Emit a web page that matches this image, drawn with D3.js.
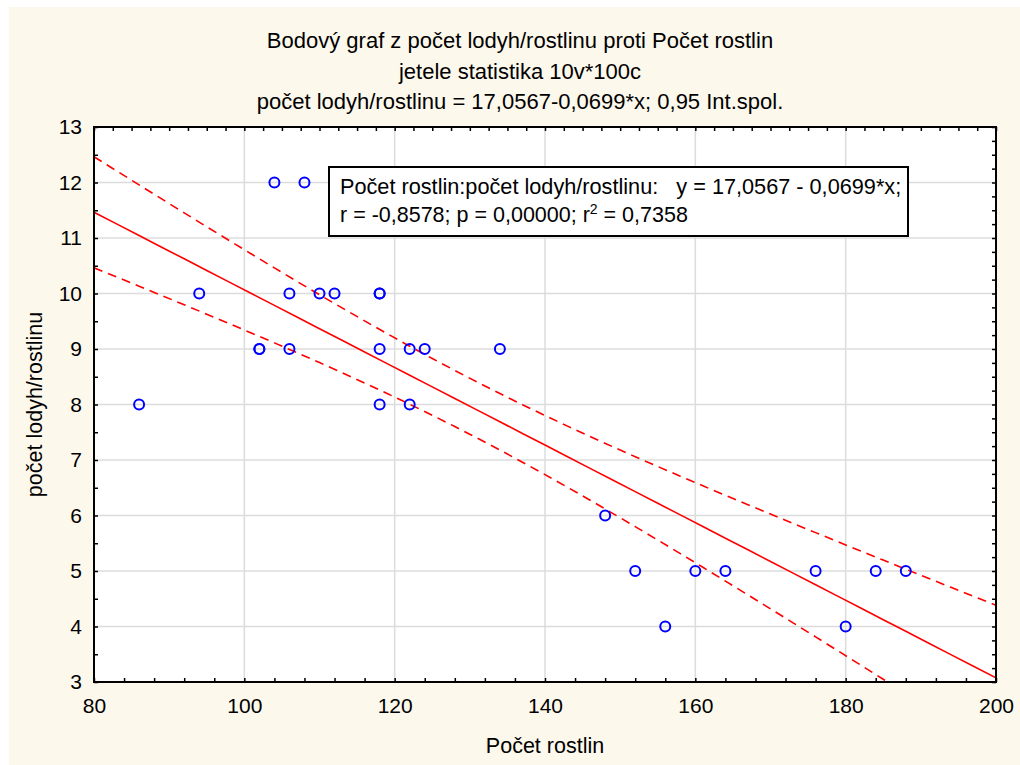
<!DOCTYPE html>
<html>
<head>
<meta charset="utf-8">
<script src="https://cdn.jsdelivr.net/npm/d3@7"></script>
<style>
  body { margin: 0; background: #fff; }
  text { font-family: Arial, "Liberation Sans", sans-serif; fill: #000; }
</style>
</head>
<body>
<div id="chart"></div>
<script>
// Počet rostlin (x) and počet lodyh/rostlinu (y), one entry per sample
const plantCounts   = [86, 94, 102, 102, 104, 106, 106, 108, 110, 112, 118, 118, 118, 118, 122, 122, 124, 134, 148, 152, 156, 160, 164, 176, 180, 184, 188];
const stemsPerPlant = [8, 10, 9, 9, 12, 10, 9, 12, 10, 10, 10, 10, 9, 8, 9, 8, 9, 9, 6, 5, 4, 5, 5, 5, 4, 5, 5];

const xTicks = [80, 100, 120, 140, 160, 180, 200];
const yTicks = [3, 4, 5, 6, 7, 8, 9, 10, 11, 12, 13];

const titleLines = [
    "Bodový graf z počet lodyh/rostlinu proti Počet rostlin",
    "jetele statistika 10v*100c",
    "počet lodyh/rostlinu = 17,0567-0,0699*x; 0,95 Int.spol."
];
const xTitle = "Počet rostlin";
const yTitle = "počet lodyh/rostlinu";
const legendLine1 = "Počet rostlin:počet lodyh/rostlinu:   y = 17,0567 - 0,0699*x;";

const T_CRIT = 2.0595; // t(0.975, df = 25)

const W = 1020, H = 765;
const margin = { top: 127, right: 24, bottom: 83, left: 94 };
const width = W - margin.left - margin.right;
const height = H - margin.top - margin.bottom;
const FS = 21;

const svg = d3.select("#chart").append("svg")
    .attr("width", W)
    .attr("height", H);

svg.append("rect").attr("x", 9).attr("y", 7).attr("width", W - 9).attr("height", H - 7)
    .attr("fill", "#fdf8ec");

const g = svg.append("g").attr("transform", `translate(${margin.left},${margin.top})`);

const x = d3.scaleLinear().domain([80, 200]).range([0, width]);
const y = d3.scaleLinear().domain([3, 13]).range([height, 0]);

g.append("rect").attr("width", width).attr("height", height).attr("fill", "#fff");

// grid
g.selectAll("line.gx").data(xTicks.slice(1, -1)).enter().append("line")
    .attr("x1", d => x(d)).attr("x2", d => x(d))
    .attr("y1", 0).attr("y2", height)
    .attr("stroke", "#dcdcdc").attr("stroke-width", 1.5);
g.selectAll("line.gy").data(yTicks.slice(1, -1)).enter().append("line")
    .attr("y1", d => y(d)).attr("y2", d => y(d))
    .attr("x1", 0).attr("x2", width)
    .attr("stroke", "#dcdcdc").attr("stroke-width", 1.5);

// regression + 95% bands
const n = plantCounts.length;
const mx = d3.mean(plantCounts), my = d3.mean(stemsPerPlant);
const sxx = d3.sum(plantCounts, v => (v - mx) ** 2);
const sxy = d3.sum(plantCounts, (v, i) => (v - mx) * (stemsPerPlant[i] - my));
const slope = sxy / sxx;
const intercept = my - slope * mx;
const sse = d3.sum(plantCounts, (v, i) => (stemsPerPlant[i] - (intercept + slope * v)) ** 2);
const s = Math.sqrt(sse / (n - 2));

const xs = d3.range(80, 200.01, 3);
const band = xs.map(v => {
    const fit = intercept + slope * v;
    const half = T_CRIT * s * Math.sqrt(1 / n + (v - mx) ** 2 / sxx);
    return { x: v, fit: fit, lo: fit - half, hi: fit + half };
});

g.append("clipPath").attr("id", "clip")
    .append("rect").attr("width", width).attr("height", height);

const lines = g.append("g").attr("clip-path", "url(#clip)");

lines.append("path")
    .datum(band)
    .attr("fill", "none").attr("stroke", "#ff0000").attr("stroke-width", 1.6)
    .attr("d", d3.line().x(d => x(d.x)).y(d => y(d.fit)));

["lo", "hi"].forEach(key => {
    lines.append("path")
        .datum(band)
        .attr("fill", "none").attr("stroke", "#ff0000").attr("stroke-width", 1.6)
        .attr("stroke-dasharray", "9,6")
        .attr("d", d3.line().x(d => x(d.x)).y(d => y(d[key])));
});

// points
g.selectAll("circle").data(plantCounts).enter().append("circle")
    .attr("cx", d => x(d))
    .attr("cy", (d, i) => y(stemsPerPlant[i]))
    .attr("r", 5)
    .attr("fill", "none")
    .attr("stroke", "#0000ff")
    .attr("stroke-width", 2);

// frame
g.append("rect").attr("width", width).attr("height", height)
    .attr("fill", "none").attr("stroke", "#000").attr("stroke-width", 2);

// inner ticks
function ticks(axis, values, transform) {
    const a = g.append("g").attr("transform", transform)
        .call(axis.tickValues(values).tickSize(-4).tickFormat(""));
    a.select(".domain").remove();
    a.selectAll("line").attr("stroke", "#000").attr("stroke-width", 1.5);
}
ticks(d3.axisBottom(x), d3.range(80, 200.01, 4), `translate(0,${height})`);
ticks(d3.axisTop(x), d3.range(80, 200.01, 2.5), "translate(0,0)");
ticks(d3.axisLeft(y), d3.range(3, 13.01, 0.5), "translate(0,0)");
ticks(d3.axisRight(y), d3.range(3, 13.01, 0.25), `translate(${width},0)`);

// tick labels
const xAxis = g.append("g").attr("transform", `translate(0,${height})`)
    .call(d3.axisBottom(x).tickValues(xTicks).tickSize(0).tickPadding(16));
xAxis.select(".domain").remove();
xAxis.selectAll("text").attr("font-size", FS).attr("font-family", "Arial, 'Liberation Sans', sans-serif");

const yAxis = g.append("g")
    .call(d3.axisLeft(y).tickValues(yTicks).tickSize(0).tickPadding(12));
yAxis.select(".domain").remove();
yAxis.selectAll("text").attr("font-size", FS).attr("font-family", "Arial, 'Liberation Sans', sans-serif");

// titles
svg.selectAll("text.title").data(titleLines).enter().append("text")
    .attr("class", "title")
    .attr("x", 520)
    .attr("y", (d, i) => 48 + i * 30.5)
    .attr("text-anchor", "middle")
    .attr("font-size", 22)
    .text(d => d);

svg.append("text")
    .attr("x", margin.left + width / 2)
    .attr("y", 753)
    .attr("text-anchor", "middle")
    .attr("font-size", 21.5)
    .text(xTitle);

svg.append("text")
    .attr("transform", `translate(42,${margin.top + height / 2}) rotate(-90)`)
    .attr("text-anchor", "middle")
    .attr("font-size", 21.5)
    .text(yTitle);

// legend box
const legend = svg.append("g").attr("transform", "translate(329,167)");
legend.append("rect").attr("width", 579).attr("height", 69)
    .attr("fill", "#fff").attr("stroke", "#000").attr("stroke-width", 2);
legend.append("text").attr("x", 11).attr("y", 27).attr("font-size", 21.7)
    .style("white-space", "pre").text(legendLine1);
const l2 = legend.append("text").attr("x", 11).attr("y", 55).attr("font-size", 21.5);
l2.append("tspan").text("r = -0,8578; p = 0,00000; r");
l2.append("tspan").attr("dy", -8).attr("font-size", 14).text("2");
l2.append("tspan").attr("dy", 8).text(" = 0,7358");
</script>
</body>
</html>
